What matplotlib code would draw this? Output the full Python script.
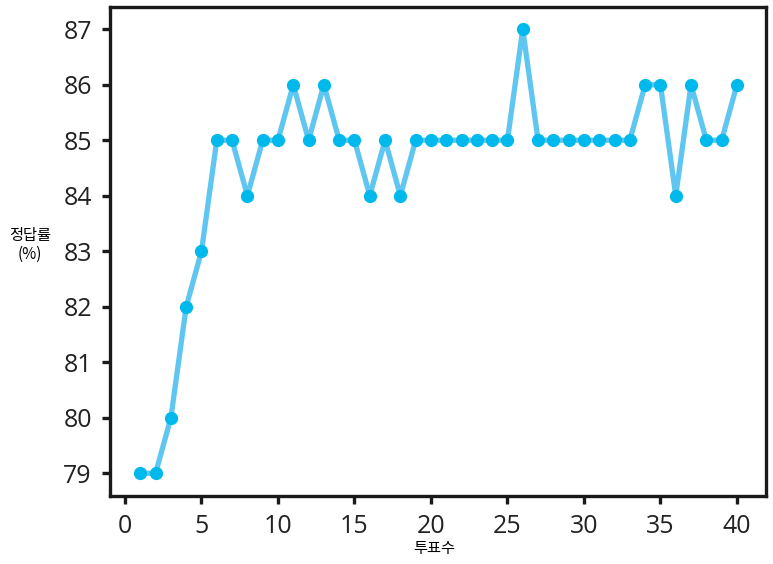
import matplotlib
matplotlib.use("Agg")
import matplotlib.pyplot as plt

votes = list(range(1, 41))
accuracy = [79, 79, 80, 82, 83, 85, 85, 84, 85, 85,
            86, 85, 86, 85, 85, 84, 85, 84, 85, 85,
            85, 85, 85, 85, 85, 87, 85, 85, 85, 85,
            85, 85, 85, 86, 86, 84, 86, 85, 85, 86]
xticks = [0, 5, 10, 15, 20, 25, 30, 35, 40]
yticks = [79, 80, 81, 82, 83, 84, 85, 86, 87]

plt.rcParams['font.family'] = ['Noto Sans CJK KR', 'DejaVu Sans']

fig = plt.figure(figsize=(7.73, 5.64), dpi=100)
ax = fig.add_axes([110/773, 1-496/564, (766-110)/773, (496-7)/564])

ax.plot(votes, accuracy, color='#5EC6F0', lw=3.8, zorder=2)
ax.plot(votes, accuracy, 'o', color='#00B9EC', ms=8.5, zorder=3)

ax.set_xlim(-0.98, 41.9)
ax.set_ylim(78.59, 87.4)
ax.set_xticks(xticks)
ax.set_yticks(yticks)
for s in ax.spines.values():
    s.set_linewidth(2.4)
    s.set_color('#1a1a1a')
ax.tick_params(axis='both', direction='out', length=6, width=2.4, color='#1a1a1a',
               labelsize=18, labelcolor='#222222', pad=7)
for lab in ax.get_xticklabels() + ax.get_yticklabels():
    lab.set_family(['Open Sans', 'DejaVu Sans'])

fig.text(30/773, 1-245/564, '정답률\n(%)', ha='center', va='center', fontsize=11,
         linespacing=1.1)
fig.text(434/773, 1-549/564, '투표수', ha='center', va='center', fontsize=11)

fig.savefig('out.png', dpi=100)
